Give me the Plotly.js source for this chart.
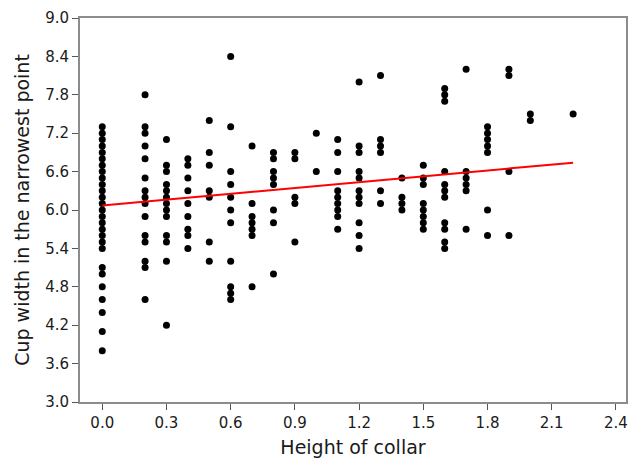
<!DOCTYPE html>
<html><head><meta charset="utf-8">
<script src="https://cdn.plot.ly/plotly-3.0.1.min.js"></script>
<style>body{margin:0;background:#fff}#c{width:633px;height:462px}</style>
</head><body><div id="c"></div>
<script>
// Height of collar (x) and cup width (y), grouped by collar height
const col_00 = [7.3,7.2,7.1,7.0,6.9,6.8,6.7,6.6,6.5,6.4,6.3,6.2,6.1,6.0,5.9,5.8,5.7,5.6,5.5,5.4,5.1,5.0,4.8,4.6,4.4,4.1,3.8];
const col_02 = [7.8,7.3,7.2,7.0,6.8,6.5,6.3,6.2,6.1,5.9,5.6,5.5,5.2,5.1,4.6];
const col_03 = [7.1,6.7,6.6,6.4,6.3,6.2,6.1,6.0,5.9,5.6,5.5,5.2,4.2];
const col_04 = [6.8,6.7,6.5,6.3,6.1,5.9,5.7,5.6,5.4];
const col_05 = [7.4,6.9,6.7,6.3,6.2,5.5,5.2];
const col_06 = [8.4,7.3,6.6,6.4,6.2,6.0,5.8,5.2,4.8,4.7,4.6];
const col_07 = [7.0,6.1,5.9,5.8,5.7,5.6,4.8];
const col_08 = [6.9,6.8,6.6,6.5,6.4,6.0,5.8,5.0];
const col_09 = [6.9,6.8,6.2,6.1,5.5];
const col_10 = [7.2,6.6];
const col_11 = [7.1,6.9,6.6,6.3,6.2,6.1,6.0,5.9,5.7];
const col_12 = [8.0,7.0,6.9,6.6,6.5,6.3,6.2,6.1,5.8,5.6,5.4];
const col_13 = [8.1,7.1,7.0,6.9,6.3,6.1];
const col_14 = [6.5,6.2,6.1,6.0];
const col_15 = [6.7,6.5,6.4,6.1,6.0,5.9,5.8,5.7];
const col_16 = [7.9,7.8,7.7,6.6,6.4,6.3,6.2,5.8,5.7,5.5,5.4];
const col_17 = [8.2,6.6,6.5,6.4,6.3,5.7];
const col_18 = [7.3,7.2,7.1,7.0,6.9,6.0,5.6];
const col_19 = [8.2,8.1,6.6,5.6];
const col_20 = [7.5,7.4];
const col_22 = [7.5];
const collarHeights = [0.0,0.2,0.3,0.4,0.5,0.6,0.7,0.8,0.9,1.0,1.1,1.2,1.3,1.4,1.5,1.6,1.7,1.8,1.9,2.0,2.2];
const cupWidths = [col_00,col_02,col_03,col_04,col_05,col_06,col_07,col_08,col_09,col_10,col_11,col_12,col_13,col_14,col_15,col_16,col_17,col_18,col_19,col_20,col_22];
// Fitted line endpoints
const fitX = [0.0, 2.2];
const fitY = [6.07, 6.74];
const xTicks = [0.0,0.3,0.6,0.9,1.2,1.5,1.8,2.1,2.4];
const yTicks = [3.0,3.6,4.2,4.8,5.4,6.0,6.6,7.2,7.8,8.4,9.0];

const xs = [], ys = [];
collarHeights.forEach((h,i)=>{ cupWidths[i].forEach(v=>{ xs.push(h); ys.push(v); }); });

const font = 'DejaVu Sans, Verdana, sans-serif';
const axisCommon = {
  showgrid:false, zeroline:false, showline:true, mirror:true,
  linecolor:'#8c8c8c', linewidth:2, ticks:'outside', ticklen:6, tickwidth:1, tickcolor:'#555',
  tickfont:{family:font,size:15,color:'#1a1a1a'}, tickformat:'.1f'
};
Plotly.newPlot('c',[
  {x:xs,y:ys,type:'scatter',mode:'markers',marker:{color:'#000',size:7},hoverinfo:'x+y'},
  {x:fitX,y:fitY,type:'scatter',mode:'lines',line:{color:'#ff0000',width:2}}
],{
  width:633,height:462,showlegend:false,
  paper_bgcolor:'#fff',plot_bgcolor:'#fff',
  margin:{l:80,r:7,t:18,b:60},
  xaxis:Object.assign({},axisCommon,{range:[-0.104,2.447],tickvals:xTicks,
    title:{text:'Height of collar',font:{family:font,size:19,color:'#1a1a1a'},standoff:10}}),
  yaxis:Object.assign({},axisCommon,{range:[3.0,9.0],tickvals:yTicks,
    title:{text:'Cup width in the narrowest point',font:{family:font,size:19,color:'#1a1a1a'},standoff:10}})
},{displayModeBar:false,staticPlot:true});
</script></body></html>
